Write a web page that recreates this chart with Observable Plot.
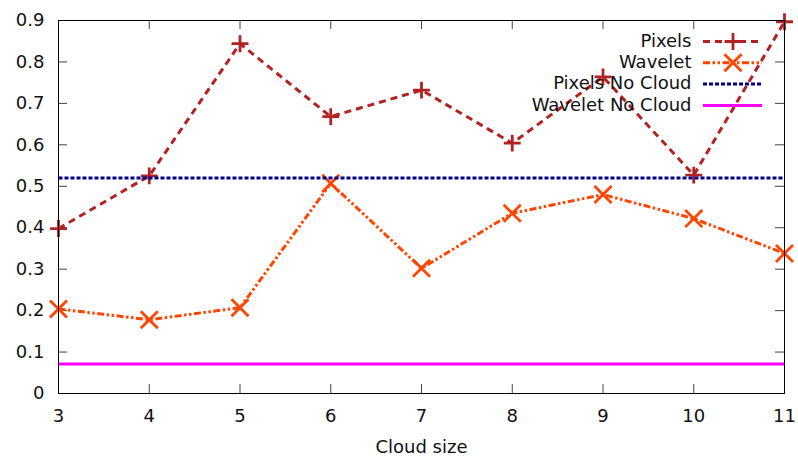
<!DOCTYPE html>
<html>
<head>
<meta charset="utf-8">
<script src="https://cdn.jsdelivr.net/npm/d3@7"></script>
<script src="https://cdn.jsdelivr.net/npm/@observablehq/plot@0.6"></script>
<style>
  html, body { margin: 0; padding: 0; background: #fff; }
  #chart svg { display: block; }
</style>
</head>
<body>
<div id="chart"></div>
<script>
const cloudSize = [3, 4, 5, 6, 7, 8, 9, 10, 11];
const pixels = [0.398, 0.525, 0.844, 0.668, 0.732, 0.604, 0.764, 0.527, 0.897];
const wavelet = [0.204, 0.178, 0.207, 0.507, 0.302, 0.435, 0.480, 0.422, 0.338];
const pixelsNoCloud = 0.52;
const waveletNoCloud = 0.071;

const xTicks = [3, 4, 5, 6, 7, 8, 9, 10, 11];
const yTicks = [0, 0.1, 0.2, 0.3, 0.4, 0.5, 0.6, 0.7, 0.8, 0.9];
const yTickLabels = ["0", "0.1", "0.2", "0.3", "0.4", "0.5", "0.6", "0.7", "0.8", "0.9"];
const xLabel = "Cloud size";
const seriesNames = ["Pixels", "Wavelet", "Pixels No Cloud", "Wavelet No Cloud"];

const W = 798, H = 457;
const mL = 58, mR = 14, mT = 20, mB = 64;
const innerW = W - mL - mR, innerH = H - mT - mB;
const tickLen = 9;
const FONT = 18;

const styles = [
  {color: "#b22222", dash: "7,5", width: 3, symbol: "plus", r: 5.5},
  {color: "#ff4500", dash: "7,2.5,2.5,2.5,2.5,2.5", width: 3, symbol: "times", r: 7.8},
  {color: "#00008b", dash: "4,2", width: 3, symbol: null},
  {color: "#ff00ff", dash: null, width: 3, symbol: null}
];

const pixData = cloudSize.map((x, i) => ({x, y: pixels[i]}));
const wavData = cloudSize.map((x, i) => ({x, y: wavelet[i]}));
const xMin = d3.min(cloudSize), xMax = d3.max(cloudSize);

const marks = [];

// frame-inward ticks (gnuplot style, mirrored)
marks.push(Plot.tickX(xTicks, {x: d => d, insetTop: innerH - tickLen, stroke: "#444", strokeWidth: 1}));
marks.push(Plot.tickX(xTicks, {x: d => d, insetBottom: innerH - tickLen, stroke: "#444", strokeWidth: 1}));
marks.push(Plot.tickY(yTicks, {y: d => d, insetRight: innerW - tickLen, stroke: "#444", strokeWidth: 1}));
marks.push(Plot.tickY(yTicks, {y: d => d, insetLeft: innerW - tickLen, stroke: "#444", strokeWidth: 1}));

// axis labels
marks.push(Plot.axisX({ticks: xTicks, tickSize: 0, tickPadding: 16, tickFormat: d => String(d), fontSize: FONT, label: null, fill: "#111"}));
marks.push(Plot.axisY({ticks: yTicks, tickSize: 0, tickPadding: 14, tickFormat: (d, i) => yTickLabels[i], fontSize: FONT, label: null, fill: "#111"}));
marks.push(Plot.text([xLabel], {text: d => d, frameAnchor: "bottom", lineAnchor: "middle", dy: 54, fontSize: FONT, fill: "#111"}));

// series
const lineOpts = {strokeLinecap: "butt", strokeLinejoin: "miter"};
marks.push(Plot.line(pixData, {x: "x", y: "y", stroke: styles[0].color, strokeWidth: styles[0].width, strokeDasharray: styles[0].dash, ...lineOpts}));
marks.push(Plot.dot(pixData, {x: "x", y: "y", symbol: "plus", r: styles[0].r, stroke: styles[0].color, strokeWidth: 2.8}));
marks.push(Plot.line(wavData, {x: "x", y: "y", stroke: styles[1].color, strokeWidth: styles[1].width, strokeDasharray: styles[1].dash, ...lineOpts}));
marks.push(Plot.dot(wavData, {x: "x", y: "y", symbol: "times", r: styles[1].r, stroke: styles[1].color, strokeWidth: 2.8}));
marks.push(Plot.line([{x: xMin, y: pixelsNoCloud}, {x: xMax, y: pixelsNoCloud}], {x: "x", y: "y", stroke: styles[2].color, strokeWidth: styles[2].width, strokeDasharray: styles[2].dash, ...lineOpts}));
marks.push(Plot.line([{x: xMin, y: waveletNoCloud}, {x: xMax, y: waveletNoCloud}], {x: "x", y: "y", stroke: styles[3].color, strokeWidth: styles[3].width, ...lineOpts}));

// legend (top-right, inside)
const yTop = d3.max(yTicks);
const rowH = 21.3;
seriesNames.forEach((name, i) => {
  const s = styles[i];
  const dy = 21 + i * rowH;
  marks.push(Plot.text([name], {text: d => d, frameAnchor: "top-right", dx: -93, dy: dy - 0.5, textAnchor: "end", lineAnchor: "middle", fontSize: FONT, fill: "#111"}));
  marks.push(Plot.ruleY([yTop], {y: d => d, insetLeft: 645, insetRight: 22, dy, stroke: s.color, strokeWidth: s.width, strokeDasharray: s.dash || undefined, strokeLinecap: "butt"}));
  if (s.symbol) {
    marks.push(Plot.dot([yTop], {y: d => d, frameAnchor: "right", dx: -51.5, dy, symbol: s.symbol, r: s.r, stroke: s.color, strokeWidth: 2.8}));
  }
});

marks.push(Plot.frame({stroke: "#000", strokeWidth: 1}));

const chart = Plot.plot({
  width: W,
  height: H,
  marginLeft: mL,
  marginRight: mR,
  marginTop: mT,
  marginBottom: mB,
  style: {fontFamily: "DejaVu Sans, sans-serif", fontSize: FONT + "px", background: "#fff", overflow: "visible"},
  x: {domain: [xMin, xMax], axis: null},
  y: {domain: [0, yTop], axis: null},
  marks
});
document.getElementById("chart").appendChild(chart);
</script>
</body>
</html>
